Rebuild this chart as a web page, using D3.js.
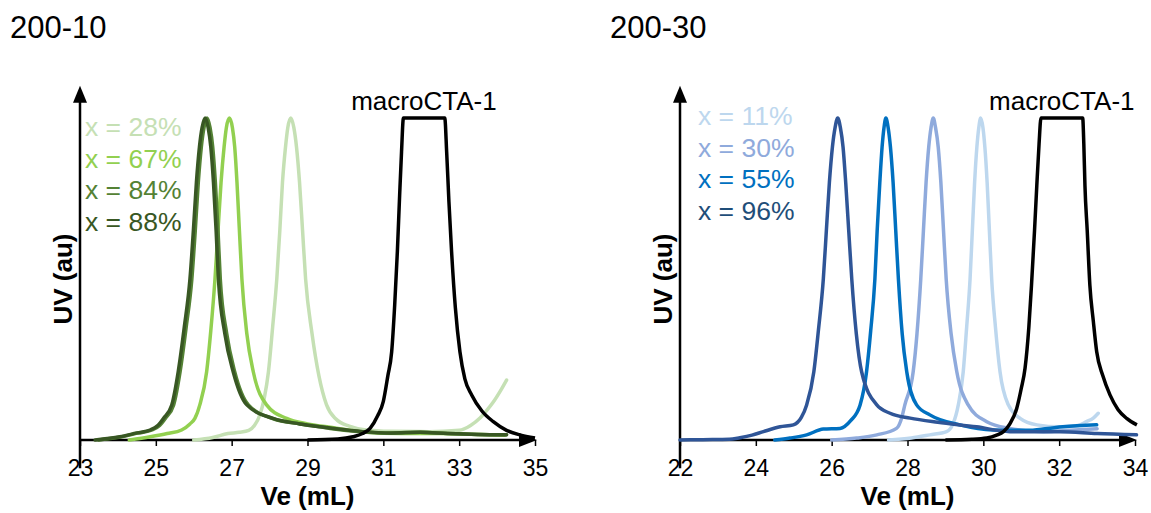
<!DOCTYPE html>
<html>
<head>
<meta charset="utf-8">
<script src="https://cdn.jsdelivr.net/npm/d3@7"></script>
<style>
  body { margin: 0; background: #fff; }
  svg text { font-family: Arial, "Liberation Sans", sans-serif; }
</style>
</head>
<body>
<svg id="chart" width="1151" height="513"></svg>
<script>
// ── data: [Ve (mL), UV (normalised)] ──────────────────────────
const ticks10 = [23, 25, 27, 29, 31, 33, 35];
const ticks30 = [22, 24, 26, 28, 30, 32, 34];

const labels10 = ["x = 28%", "x = 67%", "x = 84%", "x = 88%"];
const labels30 = ["x = 11%", "x = 30%", "x = 55%", "x = 96%"];

const macro10 = [[29.0,0],[29.8,0.003],[30.2,0.01],[30.45,0.02],[30.65,0.036],[30.85,0.075],[31.0,0.12],
  [31.12,0.2],[31.22,0.274],[31.3,0.42],[31.37,0.585],[31.43,0.76],[31.48,0.895],[31.53,1.0],[32.62,1.0],
  [32.67,0.895],[32.73,0.74],[32.8,0.585],[32.9,0.41],[33.02,0.274],[33.15,0.19],[33.33,0.14],[33.6,0.09],
  [33.9,0.057],[34.25,0.03],[34.6,0.016],[35.0,0.006]];

const g28 = [[26.0,0],[26.5,0.008],[26.9,0.02],[27.2,0.024],[27.45,0.03],[27.6,0.045],[27.75,0.08],[27.86,0.13],
  [27.97,0.212],[28.08,0.35],[28.19,0.5],[28.27,0.65],[28.34,0.8],[28.42,0.91],[28.48,0.97],[28.56,1.0],
  [28.64,0.97],[28.71,0.91],[28.79,0.8],[28.87,0.65],[28.95,0.5],[29.12,0.33],[29.3,0.2],[29.5,0.11],
  [29.75,0.065],[30.1,0.043],[30.5,0.032],[31.2,0.027],[32.2,0.026],[33.0,0.03],[33.3,0.045],[33.55,0.068],
  [33.75,0.095],[33.9,0.118],[34.1,0.155],[34.25,0.186]];

const g67 = [[24.3,0],[24.85,0.01],[25.3,0.02],[25.68,0.031],[25.9,0.05],[26.03,0.067],[26.16,0.109],[26.34,0.212],
  [26.45,0.34],[26.56,0.5],[26.64,0.65],[26.72,0.8],[26.8,0.91],[26.86,0.97],[26.94,1.0],[27.02,0.97],
  [27.08,0.91],[27.14,0.8],[27.2,0.66],[27.27,0.5],[27.4,0.33],[27.57,0.212],[27.92,0.109],[28.45,0.067],
  [29.0,0.05],[29.6,0.04],[30.5,0.025],[31.5,0.02],[32.5,0.02],[33.5,0.017],[34.2,0.015]];

const g84 = [[23.5,0],[24.1,0.01],[24.55,0.022],[24.9,0.031],[25.1,0.045],[25.25,0.067],[25.47,0.109],[25.64,0.212],
  [25.8,0.35],[25.95,0.5],[26.04,0.65],[26.12,0.8],[26.2,0.91],[26.27,0.97],[26.35,1.0],[26.43,0.97],
  [26.5,0.91],[26.57,0.8],[26.64,0.65],[26.7,0.5],[26.87,0.33],[27.08,0.212],[27.44,0.109],[28.1,0.066],
  [28.8,0.05],[29.33,0.041],[29.6,0.036],[30.46,0.025],[31.2,0.021],[31.97,0.024],[32.7,0.02],[33.5,0.017],
  [34.25,0.016]];

const g88 = [[23.4,0],[24.05,0.01],[24.5,0.022],[24.85,0.031],[25.05,0.045],[25.2,0.067],[25.42,0.109],[25.59,0.212],
  [25.75,0.35],[25.9,0.5],[25.99,0.65],[26.07,0.8],[26.15,0.91],[26.22,0.97],[26.3,1.0],[26.38,0.97],
  [26.45,0.91],[26.52,0.8],[26.59,0.65],[26.65,0.5],[26.82,0.33],[27.04,0.212],[27.4,0.109],[28.09,0.067],
  [28.8,0.05],[29.33,0.041],[29.6,0.037],[30.46,0.026],[31.2,0.022],[31.97,0.024],[32.7,0.02],[33.5,0.017],
  [34.25,0.016]];

const macro30 = [[29.0,0],[29.7,0.002],[30.09,0.006],[30.35,0.015],[30.53,0.026],[30.7,0.05],[30.88,0.098],[31.0,0.16],
  [31.1,0.223],[31.2,0.35],[31.27,0.48],[31.35,0.65],[31.41,0.79],[31.47,0.92],[31.52,1.0],[32.62,1.0],[32.65,0.92],
  [32.68,0.79],[32.74,0.65],[32.81,0.48],[32.9,0.37],[32.99,0.274],[33.15,0.2],[33.34,0.14],[33.55,0.095],
  [33.78,0.067],[34.05,0.047]];

const b11 = [[27.5,0],[28.1,0.006],[28.59,0.016],[29.03,0.026],[29.2,0.05],[29.34,0.109],[29.47,0.212],[29.56,0.35],
  [29.65,0.5],[29.71,0.65],[29.77,0.8],[29.83,0.91],[29.88,0.97],[29.93,1.0],[29.99,0.97],[30.04,0.91],
  [30.1,0.8],[30.16,0.65],[30.22,0.5],[30.32,0.35],[30.44,0.212],[30.66,0.109],[30.97,0.067],[31.41,0.047],
  [32.02,0.041],[32.5,0.045],[32.72,0.057],[32.9,0.068],[33.03,0.083]];

const b30 = [[26.0,0],[26.66,0.006],[27.19,0.016],[27.71,0.036],[27.85,0.07],[27.93,0.109],[28.15,0.212],[28.25,0.33],
  [28.35,0.5],[28.42,0.65],[28.49,0.8],[28.56,0.91],[28.62,0.97],[28.68,1.0],[28.74,0.97],[28.81,0.91],
  [28.88,0.8],[28.95,0.65],[29.02,0.5],[29.15,0.33],[29.3,0.212],[29.6,0.109],[30.09,0.057],[30.7,0.036],
  [31.58,0.026],[32.3,0.03],[33.0,0.035]];

const b55 = [[24.5,0],[24.9,0.006],[25.34,0.016],[25.78,0.034],[26.22,0.036],[26.5,0.06],[26.75,0.109],[26.92,0.212],
  [27.03,0.34],[27.14,0.5],[27.2,0.65],[27.27,0.8],[27.33,0.91],[27.38,0.97],[27.43,1.0],[27.49,0.97],
  [27.55,0.91],[27.62,0.8],[27.69,0.65],[27.76,0.5],[27.86,0.33],[27.98,0.212],[28.24,0.109],[28.59,0.078],
  [29.38,0.047],[30.25,0.031],[31.14,0.03],[31.7,0.036],[32.1,0.041],[32.99,0.047]];

const b96 = [[22.0,0],[22.6,0.001],[23.3,0.002],[23.58,0.007],[23.9,0.015],[24.2,0.026],[24.64,0.041],[24.99,0.047],
  [25.2,0.07],[25.34,0.109],[25.53,0.212],[25.65,0.34],[25.78,0.5],[25.86,0.65],[25.94,0.8],[26.02,0.91],
  [26.09,0.97],[26.16,1.0],[26.23,0.97],[26.3,0.91],[26.37,0.8],[26.45,0.65],[26.53,0.5],[26.65,0.33],
  [26.79,0.212],[27.19,0.109],[27.54,0.083],[28.07,0.068],[28.8,0.055],[29.82,0.041],[30.7,0.026],
  [32.02,0.026],[33.0,0.02],[34.04,0.016]];

// colours
const greens = ["#c5e0b4", "#92d050", "#548235", "#385723"];
const blues = ["#bdd7ee", "#8faadc", "#0070c0", "#2f5597"];
const blueText = ["#bdd7ee", "#8faadc", "#0070c0", "#1f4e79"];

const svg = d3.select("#chart");

function drawPanel(cfg) {
  const g = svg.append("g");
  const x = d3.scaleLinear().domain(cfg.domain).range(cfg.range);
  const y = d3.scaleLinear().domain([0, 1]).range([440, 118]);

  g.append("text")
    .attr("x", cfg.titleX)
    .attr("y", 38)
    .attr("font-size", 31)
    .text(cfg.title);

  // x axis ticks + labels
  const ax = g.append("g")
    .attr("transform", `translate(0,${y(0)})`)
    .call(d3.axisBottom(x).tickValues(cfg.ticks).tickSize(6).tickSizeOuter(0).tickPadding(13.5));
  ax.select(".domain").remove();
  ax.selectAll(".tick line").attr("stroke", "#000").attr("stroke-width", 1.5);
  ax.selectAll(".tick text")
    .attr("fill", "#000")
    .attr("font-size", 23)
    .attr("font-family", "Arial, 'Liberation Sans', sans-serif");

  const x0 = x(cfg.domain[0]);
  const x1 = x(cfg.domain[1]);
  const yTop = y(1.1);

  // axis lines with arrowheads
  g.append("line")
    .attr("x1", x0).attr("x2", x1 - 8)
    .attr("y1", y(0)).attr("y2", y(0))
    .attr("stroke", "#000").attr("stroke-width", 2.5);
  g.append("path")
    .attr("d", `M${x1 + 2},${y(0)} L${x1 - 16},${y(0) - 7} L${x1 - 16},${y(0) + 7} Z`)
    .attr("fill", "#000");

  g.append("line")
    .attr("x1", x0).attr("x2", x0)
    .attr("y1", y(-0.088)).attr("y2", yTop + 8)
    .attr("stroke", "#000").attr("stroke-width", 2.5);
  g.append("path")
    .attr("d", `M${x0},${yTop} L${x0 - 7},${yTop + 17} L${x0 + 7},${yTop + 17} Z`)
    .attr("fill", "#000");

  // axis titles
  g.append("text")
    .attr("x", (x0 + x1) / 2)
    .attr("y", 505)
    .attr("text-anchor", "middle")
    .attr("font-size", 26)
    .attr("font-weight", "bold")
    .text("Ve (mL)");
  g.append("text")
    .attr("transform", `translate(${x0 - 8},${y(0.5)}) rotate(-90)`)
    .attr("text-anchor", "middle")
    .attr("font-size", 26)
    .attr("font-weight", "bold")
    .text("UV (au)");

  // curves
  const line = d3.line()
    .x((d) => x(d[0]))
    .y((d) => y(d[1]))
    .curve(d3.curveMonotoneX);

  cfg.series.forEach((s, i) => {
    g.append("path")
      .datum(s)
      .attr("fill", "none")
      .attr("stroke", cfg.colors[i])
      .attr("stroke-width", 3.5)
      .attr("stroke-linejoin", "round")
      .attr("stroke-linecap", "round")
      .attr("d", line);
  });

  g.append("path")
    .datum(cfg.macro)
    .attr("fill", "none")
    .attr("stroke", "#000")
    .attr("stroke-width", 3.5)
    .attr("stroke-linejoin", "round")
    .attr("d", line);

  g.append("text")
    .attr("x", x(32.07))
    .attr("y", y(1) - 8)
    .attr("text-anchor", "middle")
    .attr("font-size", 26)
    .text("macroCTA-1");

  // legend labels
  g.selectAll("text.lab")
    .data(cfg.labels)
    .enter()
    .append("text")
    .attr("class", "lab")
    .attr("x", x0 + cfg.labelDx)
    .attr("y", (d, i) => cfg.labelY + i * 31.5)
    .attr("font-size", 26.5)
    .attr("fill", (d, i) => cfg.labelColors[i])
    .text((d) => d);
}

drawPanel({
  title: "200-10",
  titleX: 10,
  domain: [23, 35],
  range: [80, 535],
  ticks: ticks10,
  series: [g28, g67, g84, g88],
  colors: greens,
  macro: macro10,
  labels: labels10,
  labelColors: greens,
  labelDx: 5,
  labelY: 136
});

drawPanel({
  title: "200-30",
  titleX: 610,
  domain: [22, 34],
  range: [680, 1135],
  ticks: ticks30,
  series: [b11, b30, b55, b96],
  colors: blues,
  macro: macro30,
  labels: labels30,
  labelColors: blueText,
  labelDx: 18,
  labelY: 125
});
</script>
</body>
</html>
